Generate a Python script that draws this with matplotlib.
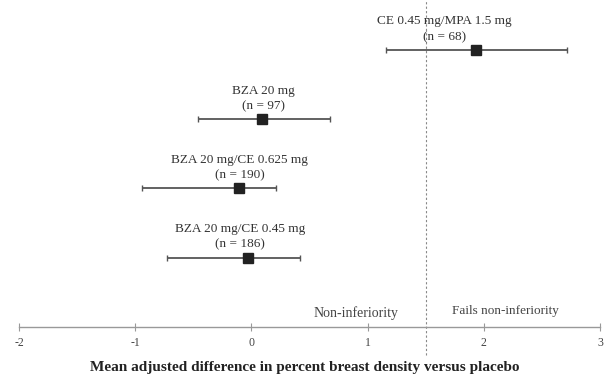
import matplotlib
matplotlib.use("Agg")
import matplotlib.pyplot as plt

labels = ["CE 0.45 mg/MPA 1.5 mg\n(n = 68)",
          "BZA 20 mg\n(n = 97)",
          "BZA 20 mg/CE 0.625 mg\n(n = 190)",
          "BZA 20 mg/CE 0.45 mg\n(n = 186)"]
means = [1.93, 0.09, -0.11, -0.03]
lower = [1.16, -0.46, -0.94, -0.73]
upper = [2.72, 0.68, 0.21, 0.42]
label_x = [1.66, 0.10, -0.10, -0.10]
xticks = [-2, -1, 0, 1, 2, 3]
margin = 1.5

plt.rcParams['font.family'] = ['Liberation Serif', 'DejaVu Serif']

fig = plt.figure(figsize=(6.04, 3.80), dpi=100)
ax = fig.add_axes([19/604, 53/380, 581/604, 327/380])
ypos = [4, 3, 2, 1]
for y, m, lo, hi, lab, lx in zip(ypos, means, lower, upper, labels, label_x):
    ax.errorbar([m], [y], xerr=[[m - lo], [hi - m]], fmt='s', color='#222222',
                ecolor='#555555', elinewidth=1.3, capsize=2.5, capthick=1.0,
                markersize=7)
    ax.annotate(lab, xy=(lx, y), xytext=(0, 5), textcoords='offset points',
                ha='center', va='bottom', fontsize=9.5, color='#333333',
                linespacing=1.4)

ax.axvline(margin, ymin=-0.086, ymax=1, color='#888888', linestyle=(0, (2, 2)),
           linewidth=0.8, clip_on=False)
ax.text(0.90, 0.02, "Non-inferiority", ha='center', va='bottom', fontsize=10,
        color='#444444', transform=ax.get_xaxis_transform())
ax.text(2.19, 0.03, "Fails non-inferiority", ha='center', va='bottom', fontsize=9.5,
        color='#444444', transform=ax.get_xaxis_transform())

ax.set_xlim(-2, 3)
ax.set_ylim(0, 4.72)
ax.set_xticks(xticks)
ax.set_xticklabels([str(t) for t in xticks])
ax.set_yticks([])
for s in ['top', 'right', 'left']:
    ax.spines[s].set_visible(False)
ax.spines['bottom'].set_color('#999999')
ax.spines['bottom'].set_linewidth(1.0)
ax.tick_params(axis='x', direction='inout', length=6, color='#999999',
               labelsize=8.5, labelcolor='#444444', pad=4)
ax.set_xlabel("Mean adjusted difference in percent breast density versus placebo",
              fontsize=11, fontweight='bold', color='#222222', labelpad=9)
ax.xaxis.label.set_x(0.491)

fig.savefig("out.png", dpi=100)
